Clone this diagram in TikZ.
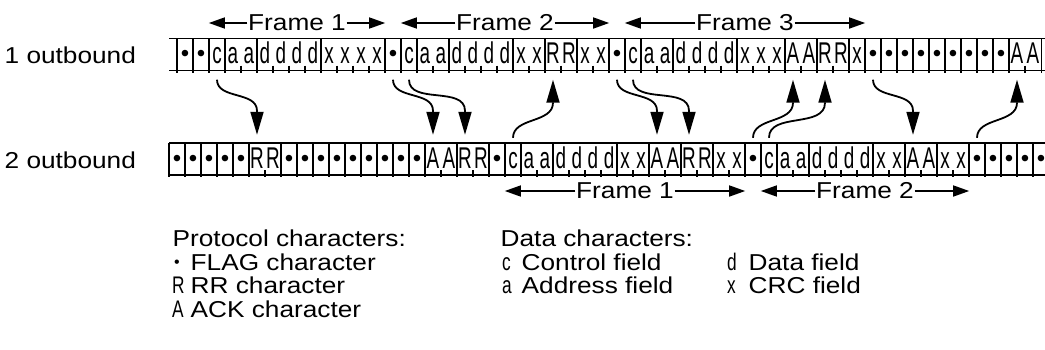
\documentclass[tikz,border=0pt]{standalone}
\usepackage{fontspec}
\setmainfont[FakeStretch=1.14]{Liberation Sans}
\newfontfamily\cellfont[FakeStretch=0.63]{Liberation Sans}
\newfontfamily\symfont[FakeStretch=0.72]{Liberation Sans}
\newfontfamily\dotfont{Liberation Sans}
\usepackage{tikz}
\usetikzlibrary{arrows.meta}

\newcommand{\flagdot}{{\dotfont\fontsize{24}{24}\selectfont\raisebox{2pt}{•}}}

\tikzset{
  cell/.style={minimum width=16pt, inner sep=0pt, text height=25pt, text depth=7pt,
    font=\cellfont\fontsize{30}{30}\selectfont},
  rule/.style={line width=1.8pt},
  bar/.style={line width=1.4pt},
  flow/.style={line width=1.8pt, -{Triangle[length=23pt,width=13pt]}},
  span/.style={line width=1.5pt, -{Triangle[length=16pt,width=11pt]}},
  lab/.style={font=\fontsize{23}{23}\selectfont, inner sep=0.5pt},
  sym/.style={font=\symfont\fontsize{24}{24}\selectfont, inner sep=0pt}
}

\begin{document}
\begin{tikzpicture}[x=1pt, y=1pt]
    \useasboundingbox (0,0) rectangle (1045,-349);

    \node[lab, anchor=base west] (out1) at (4,-63) {1 outbound};
    \node[lab, anchor=base west] (out2) at (4,-168) {2 outbound};

    % line 1
    \foreach \c [count=\k from 0] in {\flagdot,\flagdot,c,a,a,d,d,d,d,x,x,x,x,\flagdot,c,a,a,d,d,d,d,x,x,R,R,x,x,\flagdot,c,a,a,d,d,d,d,x,x,x,A,A,R,R,x,\flagdot,\flagdot,\flagdot,\flagdot,\flagdot,\flagdot,\flagdot,\flagdot,\flagdot,A,A}
        \node[cell] (a\k) at (185+16*\k,-54.5) {\c};
    \draw[rule] (169,-38.5) -- (1045,-38.5) (169,-70.5) -- (1045,-70.5);
    \foreach \k in {1,...,53}
        \draw[bar] ([yshift=5pt]a\k.south west) -- ([yshift=-2pt]a\k.south west);
    \foreach \k in {0,1,2,3,5,9,13,14,15,17,21,23,25,27,28,29,31,35,38,40,42,43,...,52}
        \draw[bar] (a\k.north west) -- ([yshift=-2pt]a\k.south west);
    \draw[bar] (a53.north east) -- ([yshift=-2pt]a53.south east);

    % line 2
    \foreach \c [count=\k from 0] in {\flagdot,\flagdot,\flagdot,\flagdot,\flagdot,R,R,\flagdot,\flagdot,\flagdot,\flagdot,\flagdot,\flagdot,\flagdot,\flagdot,\flagdot,A,A,R,R,\flagdot,c,a,a,d,d,d,d,x,x,A,A,R,R,x,x,\flagdot,c,a,a,d,d,d,d,x,x,A,A,x,x,\flagdot,\flagdot,\flagdot,\flagdot,\flagdot}
        \node[cell] (b\k) at (177+16*\k,-159) {\c};
    \draw[rule] (169,-143) -- (1045,-143) (169,-175) -- (1045,-175);
    \foreach \k in {1,...,54}
        \draw[bar] ([yshift=5pt]b\k.south west) -- ([yshift=-2pt]b\k.south west);
    \foreach \k in {0,...,5,7,8,...,16,18,20,21,22,24,28,30,32,34,36,37,38,40,44,46,48,50,51,...,54}
        \draw[bar] (b\k.north west) -- ([yshift=-2pt]b\k.south west);
    \draw[bar] (b54.north east) -- ([yshift=-2pt]b54.south east);

    % frames
    \node[lab] (ft1) at (297,-23) {Frame 1};
    \node[lab] (ft2) at (505,-23) {Frame 2};
    \node[lab] (ft3) at (745,-23) {Frame 3};
    \draw[span] (ft1.west) -- (ft1.west -| a2.west);
    \draw[span] (ft1.east) -- (ft1.east -| a12.east);
    \draw[span] (ft2.west) -- (ft2.west -| a14.west);
    \draw[span] (ft2.east) -- (ft2.east -| a26.east);
    \draw[span] (ft3.west) -- (ft3.west -| a28.west);
    \draw[span] (ft3.east) -- (ft3.east -| a42.east);
    \node[lab] (fb1) at (625,-191) {Frame 1};
    \node[lab] (fb2) at (865,-191) {Frame 2};
    \draw[span] (fb1.west) -- (fb1.west -| b21.west);
    \draw[span] (fb1.east) -- (fb1.east -| b35.east);
    \draw[span] (fb2.west) -- (fb2.west -| b37.west);
    \draw[span] (fb2.east) -- (fb2.east -| b49.east);

    % 1 -> 2 and 2 -> 1
    \foreach \s/\t in {2/5,13/16,14/18,27/30,28/32,43/46}
        \draw[flow] ([yshift=-9pt]a\s.south) to[out=-90,in=90] ([yshift=32pt]b\t.north) -- ([yshift=8pt]b\t.north);
    \foreach \s/\t in {21/23,36/38,37/40,50/52}
        \draw[flow] ([yshift=5pt]b\s.north) to[out=90,in=-90] ([yshift=-32pt]a\t.south) -- ([yshift=-9pt]a\t.south);

    % legend
    \node[lab, anchor=base west] (proto) at (172,-246) {Protocol characters:};
    \node[anchor=base, inner sep=0pt] (symF) at (177,-270) {\dotfont\fontsize{16}{16}\selectfont\raisebox{3pt}{•}};
    \node[lab, anchor=base west] (flag) at (190,-270) {FLAG character};
    \node[sym, anchor=base west] (symR) at (172,-293.5) {R};
    \node[lab, anchor=base west] (rr) at (190,-293.5) {RR character};
    \node[sym, anchor=base west] (symA) at (172,-317) {A};
    \node[lab, anchor=base west] (ack) at (190,-317) {ACK character};
    \node[lab, anchor=base west] (data) at (500,-246) {Data characters:};
    \node[sym, anchor=base west] (symc) at (502,-270) {c};
    \node[lab, anchor=base west] (ctl) at (521,-270) {Control field};
    \node[sym, anchor=base west] (syma) at (502,-293.5) {a};
    \node[lab, anchor=base west] (adr) at (521,-293.5) {Address field};
    \node[sym, anchor=base west] (symd) at (727,-270) {d};
    \node[lab, anchor=base west] (dat) at (748,-270) {Data field};
    \node[sym, anchor=base west] (symx) at (727,-293.5) {x};
    \node[lab, anchor=base west] (crc) at (748,-293.5) {CRC field};
\end{tikzpicture}
\end{document}
